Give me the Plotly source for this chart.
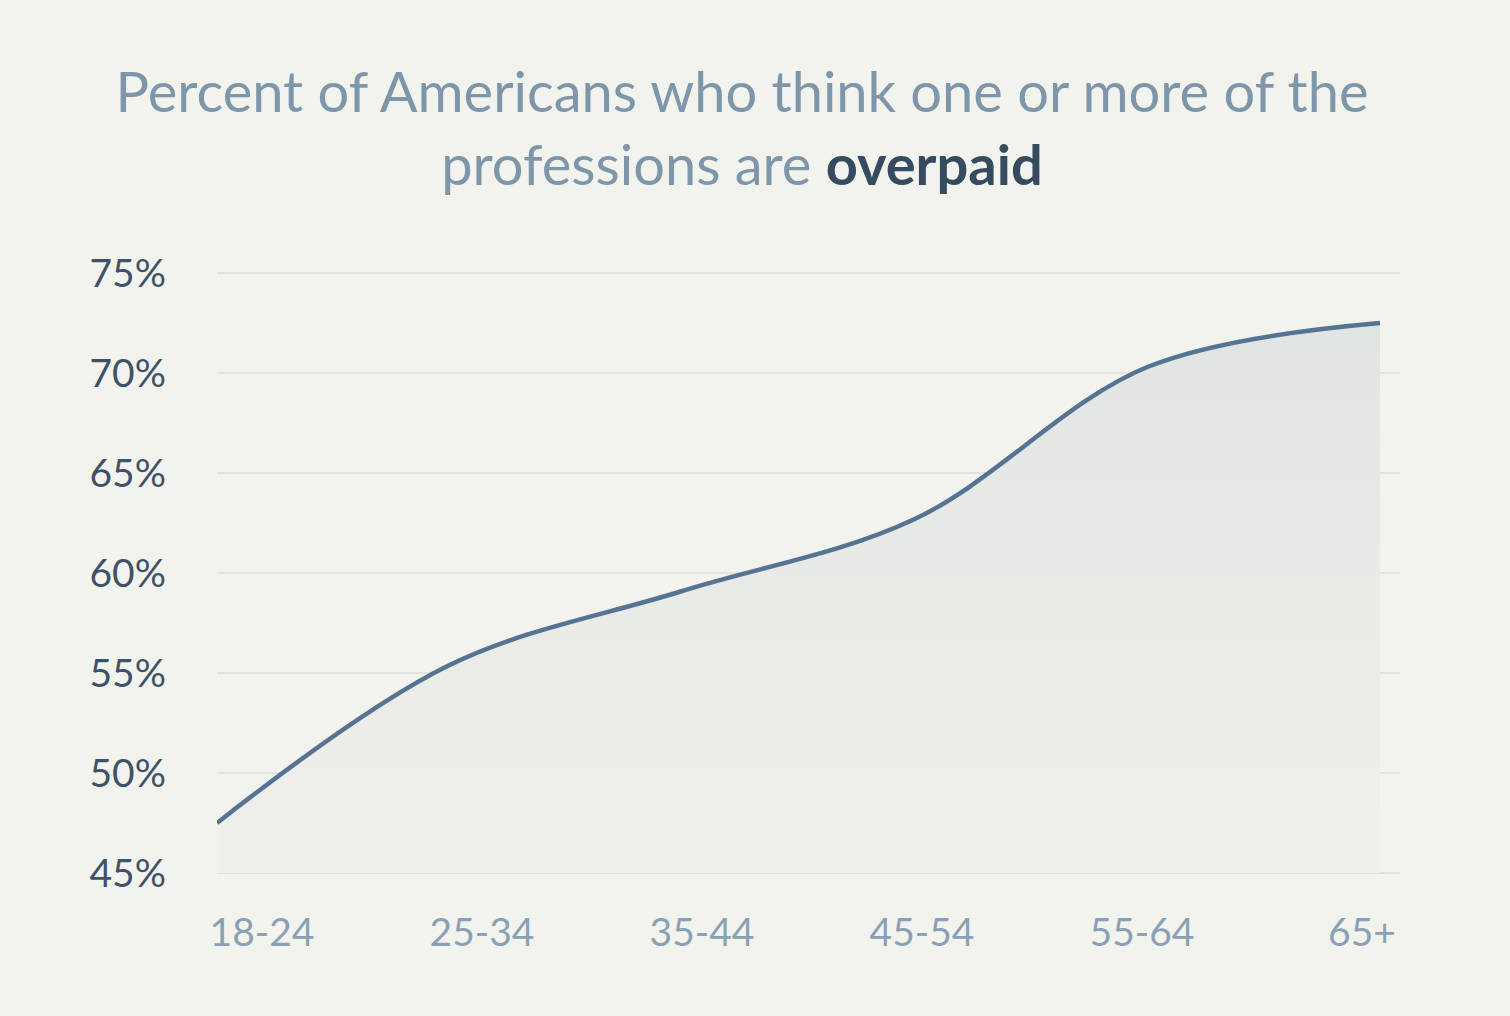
import plotly.graph_objects as go

# ---- data ----
age_groups = ["18-24", "25-34", "35-44", "45-54", "55-64", "65+"]
pct_overpaid = [47.5, 55.4, 59.1, 62.7, 70.3, 72.5]
y_ticks = [45, 50, 55, 60, 65, 70, 75]
title_main = "Percent of Americans who think one or more of the<br>professions are "
title_bold = "overpaid"

BG = "#f3f3ee"
idx = list(range(len(age_groups)))
baseline = [y_ticks[0]] * len(age_groups)

fig = go.Figure()

# baseline for the fill
fig.add_trace(go.Scatter(
    x=idx, y=baseline, mode="lines", line=dict(width=0, color="rgba(0,0,0,0)"),
    hoverinfo="skip", showlegend=False))

# filled area with vertical gradient + line
fig.add_trace(go.Scatter(
    x=idx, y=pct_overpaid, mode="lines",
    line=dict(shape="spline", smoothing=1.0, width=4.5, color="#557393"),
    fill="tonexty",
    fillgradient=dict(type="vertical",
                      colorscale=[[0, "#f0f0eb"], [0.5, "#e9ebe7"], [1, "#e0e4e2"]]),
    showlegend=False, hoverinfo="skip"))

# invisible trace for the category label axis
fig.add_trace(go.Scatter(
    x=idx, y=pct_overpaid, xaxis="x2", mode="none", hoverinfo="skip",
    showlegend=False))

fig.update_layout(
    width=1510, height=1016,
    paper_bgcolor=BG, plot_bgcolor=BG,
    margin=dict(l=217, r=110, t=269, b=139),
    font=dict(family="Lato, 'Open Sans', sans-serif"),
    title=dict(
        text=title_main + "<b style='color:#364b60'>" + title_bold + "</b>",
        font=dict(size=56, color="#7e96aa", family="Lato, 'Open Sans', sans-serif"),
        x=742 / 1510, xanchor="center", xref="container",
        y=1 - 112 / 1016, yanchor="top", yref="container"),
    xaxis=dict(
        range=[0, 5 * 1183 / 1163], showgrid=False, zeroline=False,
        showticklabels=False, showline=False, fixedrange=True),
    xaxis2=dict(
        overlaying="x", side="bottom",
        range=[-45 / 220, 1138 / 220],
        tickmode="array", tickvals=idx, ticktext=age_groups,
        tickfont=dict(size=39, color="#8aa1b5"),
        showgrid=False, zeroline=False, showline=False,
        ticks="", ticklabelstandoff=29),
    yaxis=dict(
        range=[44.8, 75.2], tickmode="array", tickvals=y_ticks,
        ticktext=[f"{v}%" for v in y_ticks],
        tickfont=dict(size=39, color="#3d5267"),
        showgrid=True, gridcolor="#e2e3dd", gridwidth=2,
        zeroline=False, showline=False, ticks="", ticklabelstandoff=50),
)

fig.write_html(
    "out.html",
    config={"displayModeBar": False},
    post_script="document.body.style.margin='0';document.body.style.background='" + BG + "';",
)
